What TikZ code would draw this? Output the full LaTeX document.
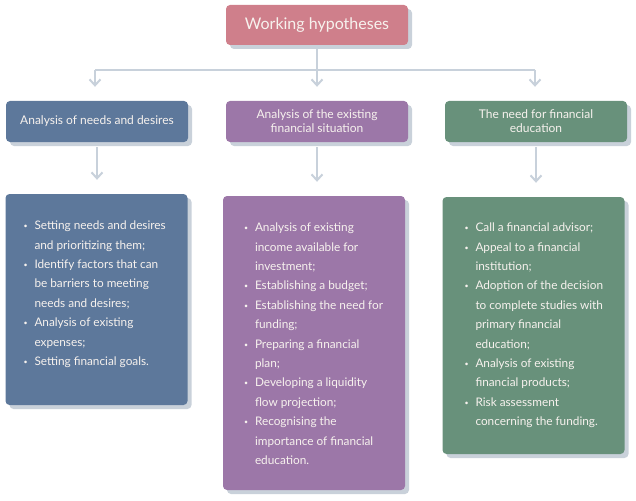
\documentclass[tikz,border=0pt]{standalone}
\usepackage{fontspec}
\setmainfont{Lato}
\usepackage{tikz}
\usetikzlibrary{arrows.meta,positioning,shadows}
\definecolor{hypopink}{HTML}{CF7F8B}
\definecolor{needblue}{HTML}{5D789B}
\definecolor{sitpurple}{HTML}{9C77A8}
\definecolor{edugreen}{HTML}{68917B}
\definecolor{shadegray}{HTML}{C9D1DA}
\definecolor{linkgray}{HTML}{C8D1DB}
\definecolor{paper}{HTML}{F7F2EE}
\newcommand{\bul}{\makebox[11pt][l]{\raisebox{1pt}{\scriptsize\textbullet}}}
\newcommand{\cont}{\hspace*{11pt}}

\begin{document}
\begin{tikzpicture}[
  x=1pt, y=-1pt,
  box/.style={rounded corners=4pt, inner sep=0pt, text=paper,
    drop shadow={shadow xshift=4pt, shadow yshift=-4pt, fill=shadegray, opacity=1}},
  head/.style={box, align=center, minimum width=182pt, minimum height=41pt,
    font=\fontsize{12}{14}\selectfont},
  listbox/.style={box, minimum width=182pt},
  items/.style={anchor=north west, inner sep=0pt, align=left, text=paper,
    font=\fontsize{11.8}{19.4}\selectfont},
  link/.style={draw=linkgray, line width=2.2pt},
  arr/.style={link, -{Straight Barb[length=6pt, width=11pt, line width=2pt]}}
]
\useasboundingbox (0,0) rectangle (636,500);
\node[head, fill=hypopink, minimum height=40pt, font=\fontsize{16}{18}\selectfont] (hyp) at (317,25) {Working hypotheses};
\node[head, fill=needblue] (h1) at (97,121.5) {Analysis of needs and desires};
\node[head, fill=sitpurple] (h2) at (317,121.5) {Analysis of the existing\\financial situation};
\node[head, fill=edugreen] (h3) at (536,121.5) {The need for financial\\education};
\node[listbox, fill=needblue, minimum height=211pt] (b1) at (96.5,299.5) {};
\node[listbox, fill=sitpurple, minimum height=294pt] (b2) at (314,343) {};
\node[listbox, fill=edugreen, minimum height=257pt] (b3) at (533.5,325.5) {};
\node[items] (l1) at ([xshift=18pt,yshift=-27pt]b1.north west) {%
  \bul Setting needs and desires\\ \cont and prioritizing them;\\
  \bul Identify factors that can\\ \cont be barriers to meeting\\ \cont needs and desires;\\
  \bul Analysis of existing\\ \cont expenses;\\
  \bul Setting financial goals.};
\node[items] (l2) at ([xshift=21pt,yshift=-27pt]b2.north west) {%
  \bul Analysis of existing\\ \cont income available for\\ \cont investment;\\
  \bul Establishing a budget;\\
  \bul Establishing the need for\\ \cont funding;\\
  \bul Preparing a financial\\ \cont plan;\\
  \bul Developing a liquidity\\ \cont flow projection;\\
  \bul Recognising the\\ \cont importance of financial\\ \cont education.};
\node[items] (l3) at ([xshift=22pt,yshift=-26pt]b3.north west) {%
  \bul Call a financial advisor;\\
  \bul Appeal to a financial\\ \cont institution;\\
  \bul Adoption of the decision\\ \cont to complete studies with\\ \cont primary financial\\ \cont education;\\
  \bul Analysis of existing\\ \cont financial products;\\
  \bul Risk assessment\\ \cont concerning the funding.};
\coordinate (fork) at (317,70);
\coordinate (f1) at (95,70);
\coordinate (f3) at (535,70);
\draw[link] (hyp.south) -- (fork);
\draw[link] (f1) -- (f3);
\draw[arr] (f1) -- ([yshift=14pt]h1.north -| f1);
\draw[arr] (fork) -- ([yshift=14pt]h2.north);
\draw[arr] (f3) -- ([yshift=14pt]h3.north -| f3);
\draw[arr, shorten <=5pt, shorten >=14pt] (h1.south) -- (h1.south |- b1.north);
\draw[arr, shorten <=5pt, shorten >=14pt] (h2.south) -- (h2.south |- b2.north);
\draw[arr, shorten <=5pt, shorten >=14pt] (h3.south) -- (h3.south |- b3.north);
\end{tikzpicture}
\end{document}
